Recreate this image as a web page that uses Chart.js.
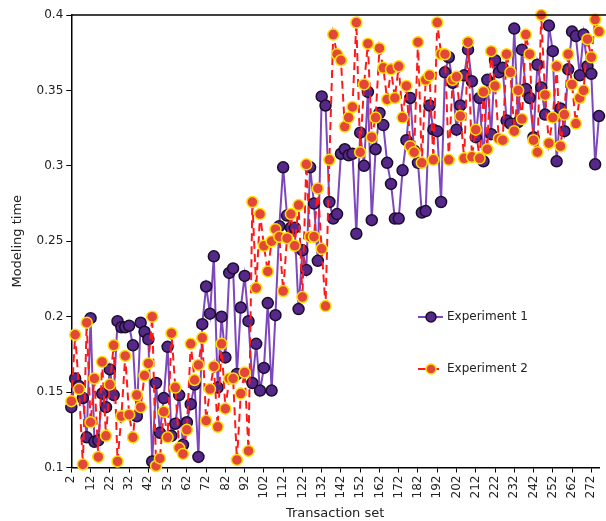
<!DOCTYPE html>
<html lang="en">
<head>
    <meta charset="UTF-8">
    <title>Modeling time per transaction set</title>
    <script src="https://cdn.jsdelivr.net/npm/chart.js"></script>
    <style>
        body { margin: 0; background: #ffffff; }
        #wrap { width: 606px; height: 521px; }
    </style>
</head>
<body>
    <div id="wrap">
        <canvas id="myChart" width="606" height="521"></canvas>
    </div>

    <script>
        // transaction sets (x categories)
        const transactionSets = [
            2, 4, 6, 8, 10, 12, 14, 16, 18, 20, 22, 24, 26, 28, 30, 32, 34, 36, 38, 40,
            42, 44, 46, 48, 50, 52, 54, 56, 58, 60, 62, 64, 66, 68, 70, 72, 74, 76, 78, 80,
            82, 84, 86, 88, 90, 92, 94, 96, 98, 100, 102, 104, 106, 108, 110, 112, 114, 116, 118, 120,
            122, 124, 126, 128, 130, 132, 134, 136, 138, 140, 142, 144, 146, 148, 150, 152, 154, 156, 158, 160,
            162, 164, 166, 168, 170, 172, 174, 176, 178, 180, 182, 184, 186, 188, 190, 192, 194, 196, 198, 200,
            202, 204, 206, 208, 210, 212, 214, 216, 218, 220, 222, 224, 226, 228, 230, 232, 234, 236, 238, 240,
            242, 244, 246, 248, 250, 252, 254, 256, 258, 260, 262, 264, 266, 268, 270, 272, 274, 276
        ];

        const experiment1 = [
            0.140, 0.159, 0.154, 0.146, 0.120, 0.199, 0.117, 0.118, 0.149, 0.140,
            0.165, 0.148, 0.197, 0.193, 0.193, 0.194, 0.181, 0.134, 0.196, 0.190,
            0.185, 0.104, 0.156, 0.123, 0.146, 0.180, 0.121, 0.129, 0.148, 0.115,
            0.130, 0.142, 0.155, 0.107, 0.195, 0.220, 0.202, 0.240, 0.153, 0.200,
            0.173, 0.229, 0.232, 0.162, 0.206, 0.227, 0.197, 0.156, 0.182, 0.151,
            0.166, 0.209, 0.151, 0.201, 0.260, 0.299, 0.267, 0.259, 0.259, 0.205,
            0.244, 0.231, 0.299, 0.275, 0.237, 0.346, 0.340, 0.276, 0.265, 0.268,
            0.308, 0.311, 0.307, 0.308, 0.255, 0.322, 0.300, 0.349, 0.264, 0.311,
            0.335, 0.327, 0.302, 0.288, 0.265, 0.265, 0.297, 0.317, 0.345, 0.310,
            0.302, 0.269, 0.270, 0.340, 0.324, 0.323, 0.276, 0.362, 0.372, 0.355,
            0.324, 0.340, 0.360, 0.377, 0.356, 0.319, 0.345, 0.303, 0.357, 0.321,
            0.370, 0.362, 0.365, 0.330, 0.328, 0.391, 0.329, 0.377, 0.351, 0.345,
            0.319, 0.367, 0.352, 0.334, 0.393, 0.376, 0.303, 0.338, 0.323, 0.364,
            0.389, 0.386, 0.360, 0.387, 0.366, 0.361, 0.301, 0.333
        ];

        const experiment2 = [
            0.144, 0.188, 0.152, 0.102, 0.196, 0.130, 0.159, 0.107, 0.170, 0.121,
            0.155, 0.181, 0.104, 0.134, 0.174, 0.135, 0.120, 0.148, 0.140, 0.161,
            0.169, 0.200, 0.101, 0.106, 0.137, 0.120, 0.189, 0.153, 0.113, 0.109,
            0.125, 0.182, 0.158, 0.168, 0.186, 0.131, 0.152, 0.167, 0.127, 0.182,
            0.139, 0.159, 0.159, 0.105, 0.149, 0.163, 0.111, 0.276, 0.219, 0.268,
            0.247, 0.230, 0.250, 0.258, 0.253, 0.217, 0.252, 0.268, 0.247, 0.274,
            0.213, 0.301, 0.253, 0.253, 0.285, 0.245, 0.207, 0.304, 0.387, 0.374,
            0.370, 0.326, 0.332, 0.339, 0.395, 0.309, 0.354, 0.381, 0.319, 0.332,
            0.378, 0.365, 0.344, 0.364, 0.345, 0.366, 0.332, 0.353, 0.313, 0.309,
            0.382, 0.302, 0.357, 0.360, 0.304, 0.395, 0.374, 0.374, 0.304, 0.357,
            0.359, 0.333, 0.305, 0.382, 0.306, 0.324, 0.305, 0.349, 0.311, 0.376,
            0.353, 0.318, 0.317, 0.374, 0.362, 0.323, 0.350, 0.331, 0.387, 0.374,
            0.317, 0.309, 0.400, 0.347, 0.315, 0.332, 0.366, 0.313, 0.334, 0.374,
            0.354, 0.328, 0.345, 0.350, 0.384, 0.372, 0.397, 0.389
        ];

        const yTicks = { min: 0.1, max: 0.4, step: 0.05 };
        const seriesNames = ['Experiment 1', 'Experiment 2'];

        const FONT = 'DejaVu Sans, Verdana, sans-serif';
        const TEXT = '#222222';

        // legend drawn inside the plot, like the original
        const insideLegend = {
            id: 'insideLegend',
            afterDraw(chart) {
                const ctx = chart.ctx;
                const area = chart.chartArea;
                ctx.save();
                // top frame line
                ctx.strokeStyle = '#000';
                ctx.lineWidth = 1.5;
                ctx.beginPath();
                ctx.moveTo(area.left, area.top);
                ctx.lineTo(chart.width, area.top);
                ctx.stroke();

                const items = [
                    { y: 317, ds: chart.data.datasets[0] },
                    { y: 369, ds: chart.data.datasets[1] }
                ];
                items.forEach((it, k) => {
                    const ds = it.ds;
                    ctx.strokeStyle = ds.borderColor;
                    ctx.lineWidth = 2;
                    ctx.setLineDash(ds.borderDash || []);
                    ctx.beginPath();
                    ctx.moveTo(418, it.y);
                    ctx.lineTo(443, it.y);
                    ctx.stroke();
                    ctx.setLineDash([]);
                    ctx.beginPath();
                    ctx.arc(431, it.y, 5, 0, Math.PI * 2);
                    ctx.fillStyle = ds.pointBackgroundColor;
                    ctx.fill();
                    ctx.lineWidth = 1.5;
                    ctx.strokeStyle = ds.pointBorderColor;
                    ctx.stroke();
                    ctx.fillStyle = TEXT;
                    ctx.font = '12px ' + FONT;
                    ctx.textBaseline = 'middle';
                    ctx.fillText(seriesNames[k], 447, it.y);
                });
                ctx.restore();
            }
        };

        const ctx = document.getElementById('myChart').getContext('2d');
        const myChart = new Chart(ctx, {
            type: 'line',
            data: {
                labels: transactionSets,
                datasets: [{
                    label: seriesNames[0],
                    data: experiment1,
                    borderColor: '#7d47bd',
                    borderWidth: 2,
                    pointBackgroundColor: '#55288a',
                    pointBorderColor: '#1c0d2c',
                    pointBorderWidth: 1.5,
                    pointRadius: 5.5,
                    tension: 0,
                    clip: false,
                    order: 1
                }, {
                    label: seriesNames[1],
                    data: experiment2,
                    borderColor: '#ff1a1a',
                    borderWidth: 2,
                    borderDash: [8, 5],
                    pointBackgroundColor: '#e2473a',
                    pointBorderColor: '#ffe000',
                    pointBorderWidth: 1.5,
                    pointRadius: 5.5,
                    tension: 0,
                    clip: false,
                    order: 0
                }]
            },
            options: {
                responsive: false,
                animation: false,
                layout: { padding: { top: 15, right: 2, left: 10, bottom: 0 } },
                plugins: {
                    legend: { display: false },
                    tooltip: { enabled: false }
                },
                scales: {
                    x: {
                        afterBuildTicks: axis => {
                            axis.ticks = axis.ticks.filter(t => t.value % 5 === 0);
                        },
                        afterFit: axis => {
                            axis.paddingRight = 0;
                        },
                        ticks: {
                            autoSkip: false,
                            minRotation: 90,
                            maxRotation: 90,
                            padding: 3,
                            color: TEXT,
                            font: { family: FONT, size: 12 }
                        },
                        grid: { display: true, drawOnChartArea: false, tickLength: 5, color: '#000' },
                        border: { display: true, color: '#000', width: 1.5 },
                        title: {
                            display: true,
                            text: 'Transaction set',
                            color: TEXT,
                            font: { family: FONT, size: 13 },
                            padding: { top: 4, bottom: 0 }
                        }
                    },
                    y: {
                        min: yTicks.min,
                        max: yTicks.max,
                        ticks: {
                            stepSize: yTicks.step,
                            padding: 3,
                            color: TEXT,
                            font: { family: FONT, size: 12 },
                            callback: v => String(Number(v.toFixed(2)))
                        },
                        grid: { display: true, drawOnChartArea: false, tickLength: 5, color: '#000' },
                        border: { display: true, color: '#000', width: 1.5 },
                        title: {
                            display: true,
                            text: 'Modeling time',
                            color: TEXT,
                            font: { family: FONT, size: 13 },
                            padding: { top: 0, bottom: 8 }
                        }
                    }
                }
            },
            plugins: [insideLegend]
        });
    </script>
</body>
</html>
